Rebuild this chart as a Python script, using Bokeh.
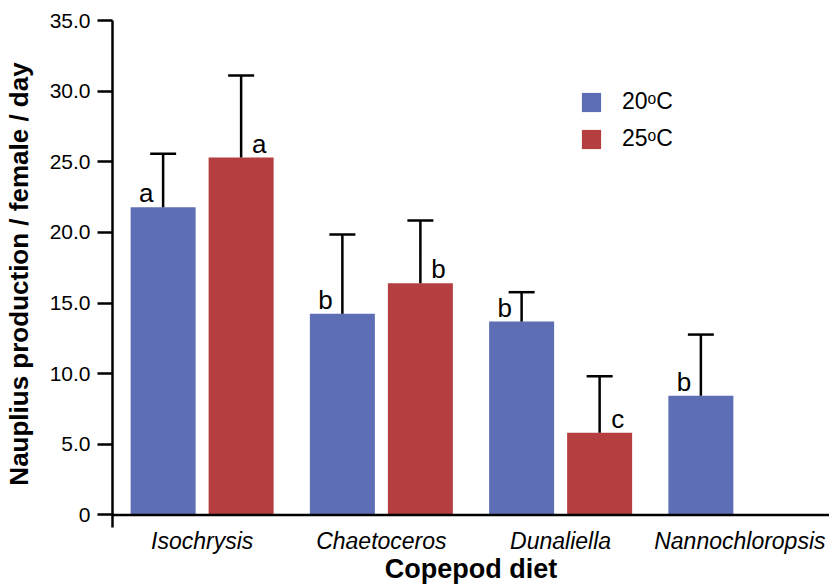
from bokeh.plotting import figure
from bokeh.models import (ColumnDataSource, FactorRange, Range1d, FixedTicker, NumeralTickFormatter,
                          Span, Legend, LegendItem)
from bokeh.transform import dodge
from bokeh.core.properties import value
from bokeh.embed import file_html
from bokeh.resources import INLINE

# ---- data ----
diets = ["Isochrysis", "Chaetoceros", "Dunaliella", "Nannochloropsis"]

diets_20 = ["Isochrysis", "Chaetoceros", "Dunaliella", "Nannochloropsis"]
mean_20 = [21.78, 14.24, 13.69, 8.44]
err_20 = [3.78, 5.61, 2.08, 4.33]
letters_20 = ["a", "b", "b", "b"]

diets_25 = ["Isochrysis", "Chaetoceros", "Dunaliella"]
mean_25 = [25.30, 16.40, 5.82]
err_25 = [5.80, 4.44, 4.00]
letters_25 = ["a", "b", "c"]

y_ticks = [0, 5, 10, 15, 20, 25, 30, 35]
series_labels = ["20ᵒC", "25ᵒC"]
x_title = "Copepod diet"
y_title = "Nauplius production / female / day"

BLUE = "#5E6EB4"
RED = "#B53E41"
FONT = "Liberation Sans"

src20 = ColumnDataSource(dict(diet=diets_20, mean=mean_20,
                              upper=[m + e for m, e in zip(mean_20, err_20)],
                              letter=letters_20))
src25 = ColumnDataSource(dict(diet=diets_25, mean=mean_25,
                              upper=[m + e for m, e in zip(mean_25, err_25)],
                              letter=letters_25))

p = figure(width=829, height=587, output_backend="svg", toolbar_location=None,
           x_range=FactorRange(factors=diets, range_padding=0),
           y_range=Range1d(-0.885, 35.0),
           min_border_left=112, min_border_right=0, min_border_top=20, min_border_bottom=60)
p.outline_line_color = None
p.grid.visible = False
p.background_fill_color = "white"

OFF = 0.2176
W = 0.3626
r20 = p.vbar(x=dodge("diet", -OFF, range=p.x_range), top="mean", bottom=0, width=W,
             source=src20, fill_color=BLUE, line_color=None)
r25 = p.vbar(x=dodge("diet", OFF, range=p.x_range), top="mean", bottom=0, width=W,
             source=src25, fill_color=RED, line_color=None)

# error bars (upper only)
for src, off in ((src20, -OFF), (src25, OFF)):
    xx = dodge("diet", off, range=p.x_range)
    p.segment(x0=xx, y0="mean", x1=xx, y1="upper", source=src, line_color="black", line_width=2.5)
    p.scatter(x=xx, y="upper", marker="dash", size=26, source=src, line_color="black", line_width=2.5)

# significance letters
p.text(x=dodge("diet", -OFF, range=p.x_range), y="mean", text="letter", source=src20,
       x_offset=-17, y_offset=-14, text_align="center", text_baseline="alphabetic",
       text_font=value(FONT), text_font_size="26px", text_color="black")
p.text(x=dodge("diet", OFF, range=p.x_range), y="mean", text="letter", source=src25,
       x_offset=18, y_offset=-14, text_align="center", text_baseline="alphabetic",
       text_font=value(FONT), text_font_size="26px", text_color="black")

# x axis line at zero
p.add_layout(Span(location=0, dimension="width", line_color="black", line_width=2.5))

# y axis
ya = p.yaxis[0]
ya.ticker = FixedTicker(ticks=y_ticks)
ya.formatter = NumeralTickFormatter(format="0.0")
ya.major_label_overrides = {0: "0"}
ya.axis_line_width = 2.5
ya.major_tick_line_width = 2.5
ya.major_tick_in = 0
ya.major_tick_out = 15
ya.minor_tick_line_color = None
ya.major_label_standoff = 7
ya.major_label_text_font = FONT
ya.major_label_text_font_size = "21px"
ya.major_label_text_color = "black"
ya.axis_label = y_title
ya.axis_label_text_font = FONT
ya.axis_label_text_font_style = "bold"
ya.axis_label_text_font_size = "26px"
ya.axis_label_text_color = "black"
ya.axis_label_standoff = 13

# x axis
xa = p.xaxis[0]
xa.axis_line_color = None
xa.major_tick_line_color = None
xa.minor_tick_line_color = None
xa.major_tick_in = 0
xa.major_tick_out = 0
xa.major_label_standoff = 0
xa.major_label_text_font = FONT
xa.major_label_text_font_style = "italic"
xa.major_label_text_font_size = "23px"
xa.major_label_text_color = "black"
xa.axis_label = x_title
xa.axis_label_text_font = FONT
xa.axis_label_text_font_style = "bold"
xa.axis_label_text_font_size = "27px"
xa.axis_label_text_color = "black"
xa.axis_label_standoff = -3

legend = Legend(items=[LegendItem(label=series_labels[0], renderers=[r20]),
                       LegendItem(label=series_labels[1], renderers=[r25])],
                location=(467, 375), orientation="vertical",
                glyph_width=24, glyph_height=24, label_height=24, spacing=10,
                label_standoff=19, padding=0, margin=0,
                border_line_color=None, background_fill_alpha=0,
                label_text_font=FONT, label_text_font_size="23px", label_text_color="black")
p.add_layout(legend)

open("out.html", "w").write(file_html(p, INLINE))
